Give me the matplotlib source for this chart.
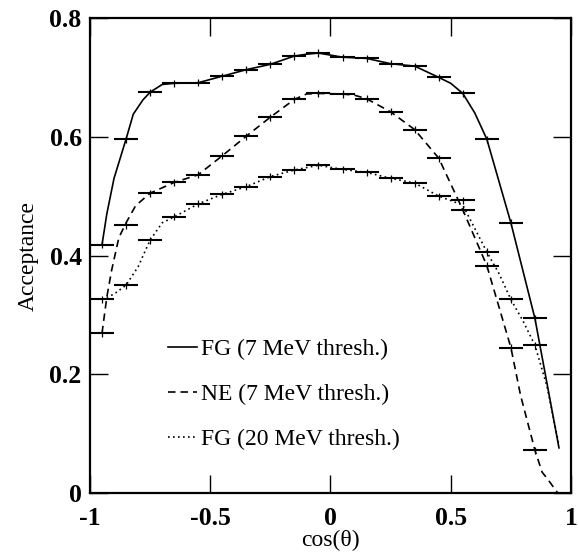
import matplotlib
matplotlib.use("Agg")
import matplotlib.pyplot as plt

# binned acceptance (bin centres, 0.1 wide bins)
bins = [-0.95, -0.85, -0.75, -0.65, -0.55, -0.45, -0.35, -0.25, -0.15, -0.05,
        0.05, 0.15, 0.25, 0.35, 0.45, 0.55, 0.65, 0.75, 0.85]
fg7_pts = [0.418, 0.596, 0.675, 0.690, 0.691, 0.702, 0.713, 0.722, 0.736, 0.741,
           0.734, 0.732, 0.723, 0.719, 0.700, 0.673, 0.596, 0.455, 0.294]
ne7_pts = [0.269, 0.451, 0.505, 0.523, 0.536, 0.568, 0.601, 0.633, 0.663, 0.673,
           0.672, 0.664, 0.642, 0.612, 0.564, 0.477, 0.383, 0.245, 0.072]
fg20_pts = [0.326, 0.350, 0.426, 0.465, 0.487, 0.503, 0.516, 0.533, 0.544, 0.552,
            0.545, 0.540, 0.530, 0.522, 0.500, 0.493, 0.406, 0.326, 0.249]
bin_half = 0.05
stat_err = 0.006

# continuous curves
fg7_x = [-0.95, -0.93, -0.90, -0.85, -0.82, -0.78, -0.75, -0.70, -0.65, -0.55,
         -0.45, -0.35, -0.25, -0.15, -0.10, -0.05, 0.05, 0.15, 0.25, 0.35,
         0.45, 0.50, 0.55, 0.60, 0.65, 0.75, 0.85, 0.95]
fg7_y = [0.418, 0.470, 0.530, 0.596, 0.638, 0.662, 0.675, 0.688, 0.690, 0.691,
         0.702, 0.713, 0.722, 0.736, 0.739, 0.741, 0.734, 0.732, 0.723, 0.719,
         0.700, 0.690, 0.673, 0.640, 0.596, 0.455, 0.294, 0.076]

ne7_x = [-0.95, -0.93, -0.91, -0.88, -0.85, -0.81, -0.75, -0.65, -0.55, -0.45,
         -0.35, -0.25, -0.15, -0.10, -0.05, 0.05, 0.10, 0.15, 0.25, 0.35,
         0.45, 0.55, 0.65, 0.75, 0.79, 0.85, 0.88, 0.90, 0.925, 0.945]
ne7_y = [0.269, 0.330, 0.375, 0.430, 0.455, 0.484, 0.505, 0.523, 0.536, 0.568,
         0.601, 0.633, 0.663, 0.672, 0.673, 0.672, 0.670, 0.664, 0.642, 0.612,
         0.564, 0.477, 0.383, 0.245, 0.165, 0.072, 0.035, 0.025, 0.011, 0.0]

fg20_x = [-0.95, -0.90, -0.85, -0.80, -0.75, -0.70, -0.65, -0.55, -0.45, -0.35,
          -0.25, -0.15, -0.05, 0.05, 0.15, 0.25, 0.35, 0.45, 0.55, 0.65,
          0.70, 0.75, 0.80, 0.85, 0.90, 0.95]
fg20_y = [0.326, 0.335, 0.350, 0.381, 0.426, 0.455, 0.465, 0.487, 0.503, 0.516,
          0.533, 0.544, 0.552, 0.545, 0.540, 0.530, 0.522, 0.500, 0.485, 0.406,
          0.370, 0.326, 0.290, 0.249, 0.180, 0.080]

labels = ["FG (7 MeV thresh.)", "NE (7 MeV thresh.)", "FG (20 MeV thresh.)"]

plt.rcParams['font.family'] = ['Liberation Serif', 'DejaVu Serif']

fig = plt.figure(figsize=(5.79, 5.54), dpi=100)
ax = fig.add_axes([0.1554, 0.1101, 0.8308, 0.8574])

l1, = ax.plot(fg7_x, fg7_y, color='black', lw=1.2, ls='-')
l2, = ax.plot(ne7_x, ne7_y, color='black', lw=1.2, ls=(0, (4.5, 3)))
l3, = ax.plot(fg20_x, fg20_y, color='black', lw=1.2, ls=(0, (1, 2)))

for pts in (fg7_pts, ne7_pts, fg20_pts):
    ax.errorbar(bins, pts, xerr=bin_half, fmt='none', ecolor='black', elinewidth=1.5)
    ax.errorbar(bins, pts, yerr=stat_err, fmt='none', ecolor='black', elinewidth=0.9)

ax.set_xlim(-1, 1)
ax.set_ylim(0, 0.8)
ax.set_xticks([-1, -0.5, 0, 0.5, 1])
ax.set_xticklabels(['-1', '-0.5', '0', '0.5', '1'])
ax.set_yticks([0, 0.2, 0.4, 0.6, 0.8])
ax.set_yticklabels(['0', '0.2', '0.4', '0.6', '0.8'])
ax.tick_params(direction='in', length=13, width=1, top=True, right=True,
               labelsize=18.5)
ax.tick_params(axis='x', pad=10)
ax.tick_params(axis='y', pad=6)
for lab in ax.get_xticklabels() + ax.get_yticklabels():
    lab.set_fontweight('bold')
for sp in ax.spines.values():
    sp.set_linewidth(1.6)

ax.set_xlabel('cos(θ)', fontsize=17, labelpad=0)
ax.set_ylabel('Acceptance', fontsize=17, labelpad=8)

leg = ax.legend([l1, l2, l3], labels, loc='lower left', bbox_to_anchor=(0.117, 0.045),
                frameon=False, fontsize=17, handlelength=1.27, handletextpad=0.15,
                labelspacing=1.0)

fig.savefig('out.png', dpi=100)
